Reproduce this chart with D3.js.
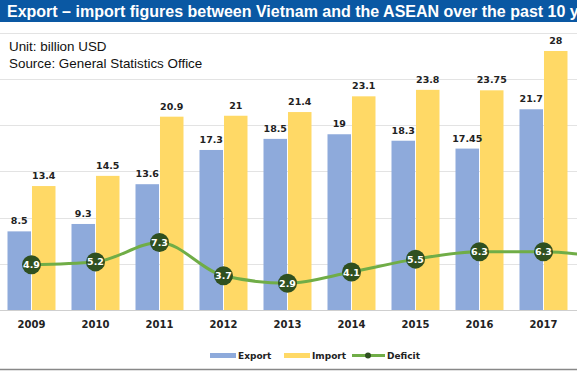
<!DOCTYPE html>
<html>
<head>
<meta charset="utf-8">
<script src="https://cdn.jsdelivr.net/npm/d3@7"></script>
<style>
  body { margin: 0; background: #fff; }
  svg { display: block; }
  .title { font-family: "Liberation Sans", Arial, sans-serif; font-weight: bold; font-size: 16px; fill: #fff; }
  .note { font-family: "Liberation Sans", Arial, sans-serif; font-size: 13.4px; fill: #111; }
  .val { font-family: "DejaVu Sans", Verdana, sans-serif; font-weight: bold; font-size: 9.5px; fill: #222; }
  .year { font-family: "DejaVu Sans", Verdana, sans-serif; font-weight: bold; font-size: 10px; fill: #222; }
  .dlab { font-family: "DejaVu Sans", Verdana, sans-serif; font-weight: bold; font-size: 9.5px; fill: #fff; }
  .leg { font-family: "DejaVu Sans", Verdana, sans-serif; font-weight: bold; font-size: 9px; fill: #222; }
</style>
</head>
<body>
<script>
// values (billion USD); 2018 is cut off at the right edge
var years   = ["2009", "2010", "2011", "2012", "2013", "2014", "2015", "2016", "2017", "2018"];
var exports = [8.5, 9.3, 13.6, 17.3, 18.5, 19, 18.3, 17.45, 21.7, null];
var imports = [13.4, 14.5, 20.9, 21, 21.4, 23.1, 23.8, 23.75, 28, null];
var deficit = [4.9, 5.2, 7.3, 3.7, 2.9, 4.1, 5.5, 6.3, 6.3, 5.6];
var yTicks  = [0, 5, 10, 15, 20, 25, 30];

var W = 577, H = 371;
var svg = d3.select("body").append("svg").attr("width", W).attr("height", H);

var x = d3.scaleBand().domain(years).range([-0.5, 639.5]).paddingInner(0.25).paddingOuter(0.125);
var y = d3.scaleLinear().domain([0, 30]).range([310, 32.5]);
var sub = d3.scaleBand().domain(["e", "i"]).range([0, x.bandwidth()]).paddingInner(0.04);

// title bar
svg.append("rect").attr("x", 0).attr("y", 0).attr("width", W).attr("height", 22).attr("fill", "#0a58a3");
svg.append("text").attr("class", "title").attr("x", 7).attr("y", 17)
  .text("Export \u2013 import figures between Vietnam and the ASEAN over the past 10 years");

// grid
svg.append("g").selectAll("line").data(yTicks).enter().append("line")
  .attr("x1", 0).attr("x2", W)
  .attr("y1", function (d) { return Math.round(y(d)) + 0.5; })
  .attr("y2", function (d) { return Math.round(y(d)) + 0.5; })
  .attr("stroke", function (d) { return d === 0 ? "#cfcfcf" : "#e3e3e3"; })
  .attr("stroke-width", 1);

svg.append("text").attr("class", "note").attr("x", 9).attr("y", 51).text("Unit: billion USD");
svg.append("text").attr("class", "note").attr("x", 9).attr("y", 68).text("Source: General Statistics Office");

var rows = years.map(function (yr, i) {
  return { year: yr, e: exports[i], im: imports[i], d: deficit[i] };
});
var bars = rows.filter(function (r) { return r.e !== null; });

// export bars
svg.append("g").selectAll("rect").data(bars).enter().append("rect")
  .attr("x", function (d) { return x(d.year) + sub("e"); })
  .attr("y", function (d) { return y(d.e); })
  .attr("width", sub.bandwidth())
  .attr("height", function (d) { return y(0) - y(d.e); })
  .attr("fill", "#8eaadb");

// import bars
svg.append("g").selectAll("rect").data(bars).enter().append("rect")
  .attr("x", function (d) { return x(d.year) + sub("i"); })
  .attr("y", function (d) { return y(d.im); })
  .attr("width", sub.bandwidth())
  .attr("height", function (d) { return y(0) - y(d.im); })
  .attr("fill", "#ffd966");

// bar labels
svg.append("g").selectAll("text").data(bars).enter().append("text")
  .attr("class", "val").attr("text-anchor", "middle")
  .attr("x", function (d) { return x(d.year) + sub("e") + sub.bandwidth() / 2; })
  .attr("y", function (d) { return y(d.e) - 7; })
  .text(function (d) { return d.e; });
svg.append("g").selectAll("text").data(bars).enter().append("text")
  .attr("class", "val").attr("text-anchor", "middle")
  .attr("x", function (d) { return x(d.year) + sub("i") + sub.bandwidth() / 2; })
  .attr("y", function (d) { return y(d.im) - 7; })
  .text(function (d) { return d.im; });

// year labels
svg.append("g").selectAll("text").data(bars).enter().append("text")
  .attr("class", "year").attr("text-anchor", "middle")
  .attr("x", function (d) { return x(d.year) + x.bandwidth() / 2; })
  .attr("y", 328)
  .text(function (d) { return d.year; });

// deficit line
var line = d3.line()
  .x(function (d) { return x(d.year) + x.bandwidth() / 2; })
  .y(function (d) { return y(d.d); })
  .curve(d3.curveMonotoneX);
svg.append("path").datum(rows).attr("d", line)
  .attr("fill", "none").attr("stroke", "#70ad47").attr("stroke-width", 3);

var dots = svg.append("g").selectAll("g").data(bars).enter().append("g")
  .attr("transform", function (d) { return "translate(" + (x(d.year) + x.bandwidth() / 2) + "," + y(d.d) + ")"; });
dots.append("circle").attr("r", 9.5).attr("fill", "#2f5020");
dots.append("text").attr("class", "dlab").attr("text-anchor", "middle").attr("dy", 3.5)
  .text(function (d) { return d.d; });

// legend
var lg = svg.append("g");
lg.append("rect").attr("x", 210).attr("y", 353).attr("width", 26).attr("height", 5).attr("fill", "#8eaadb");
lg.append("text").attr("class", "leg").attr("x", 238).attr("y", 359).text("Export");
lg.append("rect").attr("x", 284).attr("y", 353).attr("width", 26).attr("height", 5).attr("fill", "#ffd966");
lg.append("text").attr("class", "leg").attr("x", 312).attr("y", 359).text("Import");
lg.append("line").attr("x1", 352).attr("x2", 385).attr("y1", 355.5).attr("y2", 355.5)
  .attr("stroke", "#70ad47").attr("stroke-width", 3);
lg.append("circle").attr("cx", 368).attr("cy", 355.5).attr("r", 3).attr("fill", "#2f5020");
lg.append("text").attr("class", "leg").attr("x", 387).attr("y", 359).text("Deficit");

// bottom rule
svg.append("line").attr("x1", 0).attr("x2", W).attr("y1", 369.5).attr("y2", 369.5)
  .attr("stroke", "#888").attr("stroke-width", 1.5);
</script>
</body>
</html>
